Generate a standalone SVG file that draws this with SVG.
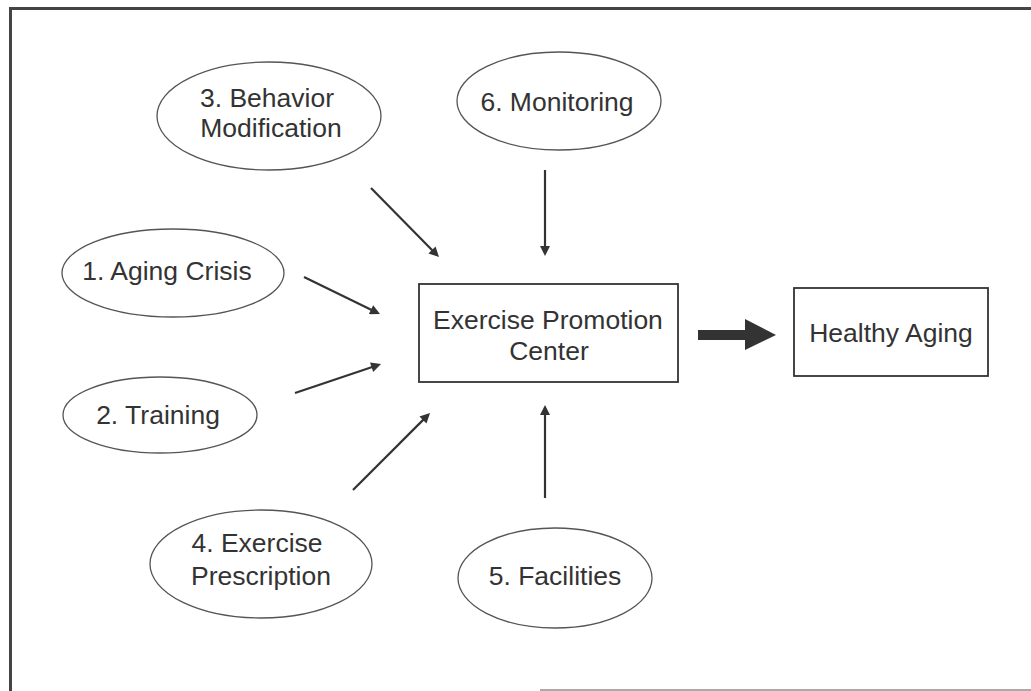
<svg xmlns="http://www.w3.org/2000/svg" width="1031" height="691" viewBox="0 0 1031 691">
<style>
.ell{fill:none;stroke:#555;stroke-width:1.3}
.box{fill:#fff;stroke:#333;stroke-width:1.8}
.t{font-family:"Liberation Sans",Arial,sans-serif;font-size:26.5px;fill:#333;text-anchor:middle}
.arr{stroke:#333;stroke-width:2.2;fill:none;marker-end:url(#ah)}
</style>
<defs>
<marker id="ah" viewBox="0 0 10 10" refX="7" refY="5" markerWidth="11" markerHeight="10" markerUnits="userSpaceOnUse" orient="auto">
<path d="M0,0 L10,5 L0,10 z" fill="#333"/>
</marker>
</defs>
<rect width="1031" height="691" fill="#fff"/>
<g id="frame" stroke="#444" stroke-width="3" fill="none">
<path d="M10.5,691 L10.5,8.5 L1031,8.5"/>
<path d="M540,690 L1031,690" stroke="#aaa" stroke-width="2"/>
</g>
<g id="n3"><ellipse class="ell" cx="269" cy="116" rx="112" ry="54"/><text class="t" x="267" y="107">3. Behavior</text><text class="t" x="271" y="137">Modification</text></g>
<g id="n6"><ellipse class="ell" cx="559" cy="101" rx="102" ry="49"/><text class="t" x="557" y="111">6. Monitoring</text></g>
<g id="n1"><ellipse class="ell" cx="173" cy="273" rx="111" ry="44"/><text class="t" x="167" y="280">1. Aging Crisis</text></g>
<g id="n2"><ellipse class="ell" cx="160" cy="415" rx="97" ry="38"/><text class="t" x="158" y="424">2. Training</text></g>
<g id="n4"><ellipse class="ell" cx="261" cy="564" rx="111" ry="54"/><text class="t" x="257" y="552">4. Exercise</text><text class="t" x="261" y="585">Prescription</text></g>
<g id="n5"><ellipse class="ell" cx="555" cy="578" rx="97" ry="50"/><text class="t" x="555" y="585">5. Facilities</text></g>
<g id="epc"><rect class="box" x="419" y="284" width="259" height="98"/><text class="t" x="548" y="329">Exercise Promotion</text><text class="t" x="549" y="360">Center</text></g>
<g id="ha"><rect class="box" x="794" y="288" width="194" height="88"/><text class="t" x="891" y="342">Healthy Aging</text></g>
<g id="connectors">
<line class="arr" x1="371" y1="188" x2="436.9" y2="254.9"/>
<line class="arr" x1="545" y1="170" x2="545" y2="253"/>
<line class="arr" x1="304" y1="277" x2="377.3" y2="312.7"/>
<line class="arr" x1="295" y1="393" x2="378.2" y2="365"/>
<line class="arr" x1="353" y1="490" x2="427.9" y2="415.1"/>
<line class="arr" x1="545" y1="498" x2="545" y2="408"/>
<polygon points="698,330 745,330 745,319 776,335 745,350 745,340 698,340" fill="#333"/>
</g>
</svg>
